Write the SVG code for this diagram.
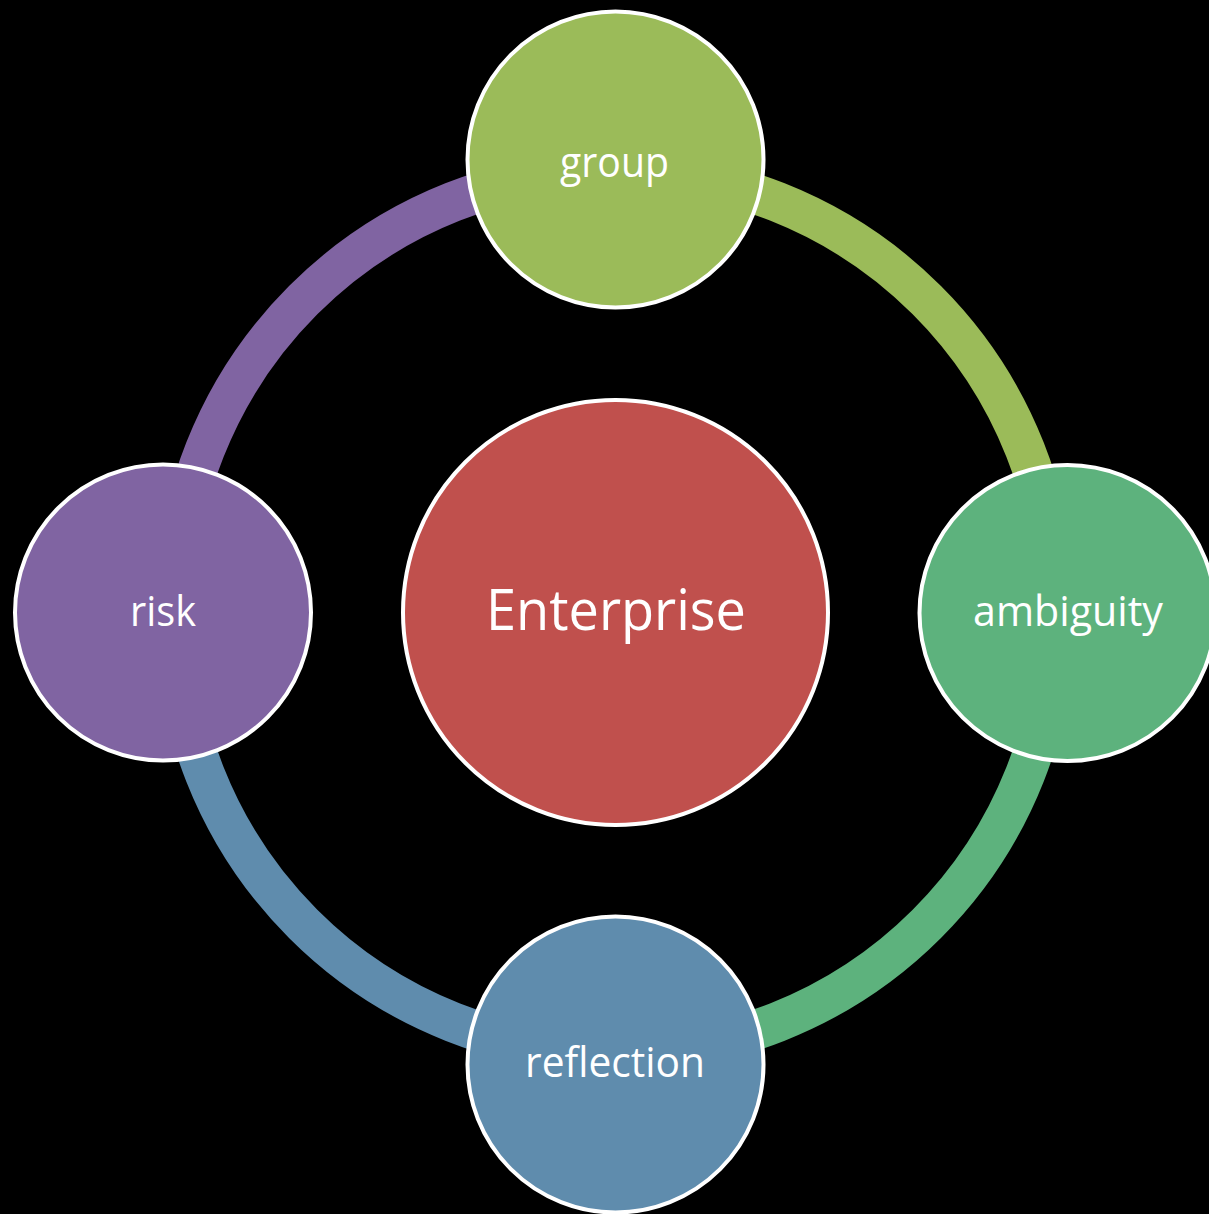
<svg xmlns="http://www.w3.org/2000/svg" width="1209" height="1214" viewBox="0 0 1209 1214">
<style>
.arc{fill:none;stroke-width:40}
.node{stroke:#FFFFFF;stroke-width:4}
.lbl{fill:#FFFFFF;font-family:"Open Sans","Noto Sans","Liberation Sans",sans-serif;text-anchor:middle}
.small{font-size:42px}
.big{font-size:57px}
</style>
<rect x="0" y="0" width="1209" height="1214" fill="#000000"/>
<g id="connectors">
<path class="arc" stroke="#9BBB59" d="M 615 171 A 441 441 0 0 1 1056 612"/>
<path class="arc" stroke="#5DB27D" d="M 1056 612 A 441 441 0 0 1 615 1053"/>
<path class="arc" stroke="#5F8CAD" d="M 615 1053 A 441 441 0 0 1 174 612"/>
<path class="arc" stroke="#8064A2" d="M 174 612 A 441 441 0 0 1 615 171"/>
</g>
<g id="node-enterprise">
<circle class="node" cx="615.5" cy="612.5" r="212.5" fill="#C0504D"/>
<text class="lbl big" x="616" y="630" textLength="260" lengthAdjust="spacingAndGlyphs">Enterprise</text>
</g>
<g id="node-group">
<circle class="node" cx="615.5" cy="159.5" r="148" fill="#9BBB59"/>
<text class="lbl small" x="614.5" y="176.5" textLength="109" lengthAdjust="spacingAndGlyphs">group</text>
</g>
<g id="node-ambiguity">
<circle class="node" cx="1067.5" cy="613" r="148" fill="#5DB27D"/>
<text class="lbl small" x="1068" y="626" textLength="190" lengthAdjust="spacingAndGlyphs">ambiguity</text>
</g>
<g id="node-reflection">
<circle class="node" cx="615.5" cy="1064.5" r="148" fill="#5F8CAD"/>
<text class="lbl small" x="615" y="1077" textLength="180" lengthAdjust="spacingAndGlyphs">reflection</text>
</g>
<g id="node-risk">
<circle class="node" cx="163" cy="612.5" r="148" fill="#8064A2"/>
<text class="lbl small" x="163" y="626" textLength="66" lengthAdjust="spacingAndGlyphs">risk</text>
</g>
</svg>
